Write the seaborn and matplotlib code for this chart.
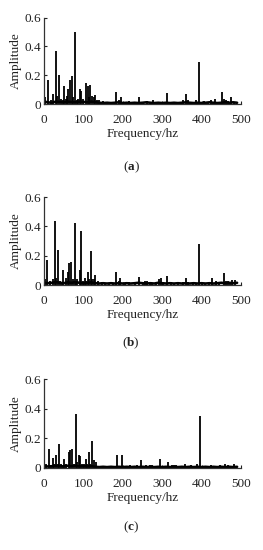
import numpy as np
import pandas as pd
import matplotlib
matplotlib.use("Agg")
import matplotlib.pyplot as plt
import seaborn as sns

# ── Datos ────────────────────────────────────────────────────────────────────
freq_a = [3, 10, 18, 24, 30, 33, 37, 42, 47, 51, 55, 59, 62, 66, 71, 74, 79, 83,
          87, 92, 95, 100, 106, 111, 114, 118, 122, 126, 130, 135, 140, 150, 160,
          170, 184, 190, 195, 205, 217, 228, 241, 252, 262, 270, 277, 285, 295,
          311, 322, 335, 345, 352, 360, 365, 378, 385, 393, 398, 405, 415, 424,
          434, 445, 453, 458, 462, 468, 475, 482]
amp_a = [0.05, 0.17, 0.03, 0.075, 0.37, 0.06, 0.20, 0.04, 0.03, 0.125, 0.04, 0.06,
         0.11, 0.17, 0.195, 0.05, 0.50, 0.03, 0.04, 0.11, 0.09, 0.04, 0.145, 0.125,
         0.05, 0.135, 0.06, 0.055, 0.065, 0.03, 0.03, 0.025, 0.02, 0.02, 0.085,
         0.03, 0.05, 0.02, 0.025, 0.015, 0.055, 0.02, 0.025, 0.02, 0.03, 0.02,
         0.015, 0.078, 0.02, 0.015, 0.02, 0.03, 0.07, 0.03, 0.02, 0.03, 0.29,
         0.02, 0.025, 0.02, 0.03, 0.04, 0.02, 0.088, 0.04, 0.03, 0.025, 0.05, 0.02]

freq_b = [3, 8.5, 15, 22, 28, 31, 35.5, 40, 45, 49, 56, 60, 63, 68.5, 73, 78, 82,
          85, 91.5, 94, 98, 103, 107, 111, 115, 118.5, 122, 126, 130, 137, 146,
          155, 165, 175, 184, 190, 194, 205, 217, 230, 241, 250, 256, 262, 268,
          275, 285, 292, 297, 303, 311, 322, 330, 340, 352, 360, 366, 378, 385,
          394, 400, 408, 418, 427, 436, 445, 456, 461, 466, 471, 477, 485]
amp_b = [0.04, 0.17, 0.03, 0.04, 0.435, 0.05, 0.24, 0.03, 0.02, 0.10, 0.05, 0.09,
         0.15, 0.16, 0.04, 0.425, 0.03, 0.04, 0.10, 0.37, 0.03, 0.05, 0.03, 0.09,
         0.04, 0.235, 0.04, 0.04, 0.065, 0.025, 0.02, 0.015, 0.015, 0.015, 0.09,
         0.03, 0.045, 0.015, 0.02, 0.015, 0.055, 0.015, 0.025, 0.025, 0.02, 0.015,
         0.02, 0.04, 0.045, 0.02, 0.06, 0.02, 0.015, 0.015, 0.02, 0.045, 0.02,
         0.015, 0.015, 0.28, 0.015, 0.015, 0.015, 0.048, 0.03, 0.015, 0.08, 0.025,
         0.025, 0.02, 0.035, 0.035]

freq_c = [1, 6, 12, 17, 22, 26, 30.5, 35, 39, 44, 48, 52, 57, 63, 66, 72, 76, 81,
          85, 88, 92, 97, 101, 106.5, 110, 114, 118, 121, 126, 132, 138, 145, 155,
          165, 175, 186, 191, 197, 205, 218, 225, 235, 245, 252, 260, 268, 275,
          282, 294, 300, 307, 314, 325, 330, 335, 345, 357, 364, 372, 380, 388,
          396, 403, 410, 418, 425, 433, 440, 447, 454, 460, 466, 472, 481, 487]
amp_c = [0.14, 0.03, 0.13, 0.02, 0.065, 0.03, 0.085, 0.03, 0.16, 0.03, 0.02, 0.06,
         0.03, 0.11, 0.12, 0.13, 0.03, 0.365, 0.04, 0.09, 0.08, 0.03, 0.03, 0.06,
         0.03, 0.105, 0.03, 0.18, 0.055, 0.04, 0.015, 0.015, 0.015, 0.015, 0.015,
         0.09, 0.015, 0.09, 0.015, 0.02, 0.01, 0.02, 0.052, 0.015, 0.02, 0.02,
         0.02, 0.015, 0.063, 0.015, 0.015, 0.04, 0.02, 0.02, 0.02, 0.01, 0.025,
         0.015, 0.02, 0.015, 0.03, 0.35, 0.015, 0.015, 0.015, 0.02, 0.015, 0.015,
         0.02, 0.015, 0.03, 0.02, 0.015, 0.03, 0.015]

# ruido de fondo, cada 10 Hz (0 … 490)
floor_freq = list(range(0, 491, 10))
floor_a = [0.02, 0.015, 0.012, 0.02, 0.018, 0.015, 0.02, 0.017, 0.015, 0.02,
           0.018, 0.015, 0.02, 0.016, 0.012, 0.01, 0.012, 0.01, 0.012, 0.015,
           0.01, 0.012, 0.01, 0.012, 0.01, 0.012, 0.015, 0.012, 0.01, 0.012,
           0.01, 0.012, 0.01, 0.012, 0.01, 0.012, 0.015, 0.012, 0.01, 0.012,
           0.01, 0.012, 0.015, 0.012, 0.01, 0.012, 0.015, 0.012, 0.015, 0.012]
floor_b = [0.015, 0.012, 0.015, 0.02, 0.015, 0.012, 0.018, 0.015, 0.02, 0.015,
           0.012, 0.015, 0.018, 0.012, 0.01, 0.012, 0.01, 0.012, 0.01, 0.012,
           0.01, 0.012, 0.01, 0.012, 0.015, 0.012, 0.01, 0.012, 0.01, 0.015,
           0.012, 0.01, 0.012, 0.01, 0.012, 0.01, 0.012, 0.01, 0.012, 0.01,
           0.012, 0.01, 0.012, 0.01, 0.012, 0.015, 0.012, 0.015, 0.012, 0.015]
floor_c = [0.012, 0.01, 0.012, 0.015, 0.012, 0.01, 0.015, 0.012, 0.015, 0.01,
           0.012, 0.01, 0.012, 0.008, 0.006, 0.008, 0.006, 0.008, 0.006, 0.008,
           0.006, 0.008, 0.006, 0.008, 0.006, 0.008, 0.006, 0.008, 0.006, 0.008,
           0.006, 0.008, 0.006, 0.008, 0.006, 0.008, 0.006, 0.008, 0.006, 0.008,
           0.006, 0.008, 0.006, 0.008, 0.006, 0.008, 0.006, 0.008, 0.006, 0.008]

y_ticks = [0, 0.2, 0.4, 0.6]
y_ticklabels = ["0", "0.2", "0.4", "0.6"]
x_ticks = [0, 100, 200, 300, 400, 500]

panels = [
    ("a", freq_a, amp_a, floor_a),
    ("b", freq_b, amp_b, floor_b),
    ("c", freq_c, amp_c, floor_c),
]

# ── Estilo ───────────────────────────────────────────────────────────────────
sns.set_style("ticks")
plt.rcParams["font.family"] = ["Liberation Serif", "DejaVu Serif"]
plt.rcParams["font.size"] = 9.5
plt.rcParams["mathtext.fontset"] = "custom"
plt.rcParams["mathtext.rm"] = "Liberation Serif"
plt.rcParams["mathtext.bf"] = "Liberation Serif:bold"
TXT = "#222222"

fig = plt.figure(figsize=(2.63, 5.50), dpi=100)
W, H = 263, 550
# (izquierda, base, alto) en píxeles
boxes = [(44, 104.5, 87), (44, 285, 88), (44, 468, 89)]
captions_y = [167, 343, 527]

for (tag, fr, am, fl), (x0, y0, h), cy in zip(panels, boxes, captions_y):
    ax = fig.add_axes([x0 / W, 1 - y0 / H, 197 / W, h / H])
    df_floor = pd.DataFrame({"f": floor_freq, "a": fl})
    sns.lineplot(data=df_floor, x="f", y="a", color="black", linewidth=1.9, ax=ax)
    ax.vlines(fr, 0, am, color="black", linewidth=1.3)

    ax.set_xlim(0, 500)
    ax.set_ylim(0, 0.6)
    ax.set_xticks(x_ticks)
    ax.set_yticks(y_ticks)
    ax.set_yticklabels(y_ticklabels)
    ax.tick_params(direction="in", length=2.5, width=0.8, colors=TXT, labelsize=9.5)
    ax.tick_params(axis="x", pad=7)
    ax.tick_params(axis="y", pad=2)
    sns.despine(ax=ax)
    for s in ("left", "bottom"):
        ax.spines[s].set_color("#333333")
        ax.spines[s].set_linewidth(0.9)

    ax.set_ylabel("Amplitude", color=TXT, fontsize=9.5)
    ax.yaxis.set_label_coords(-0.11, 0.5)
    ax.set_xlabel("Frequency/hz", color=TXT, fontsize=9.5)
    ax.xaxis.set_label_coords(0.5, -0.27)

    fig.text(131 / W, 1 - cy / H, r"($\mathbf{%s}$)" % tag, ha="center",
             va="center", color=TXT, fontsize=9.5)

fig.savefig("out.png", dpi=100)
